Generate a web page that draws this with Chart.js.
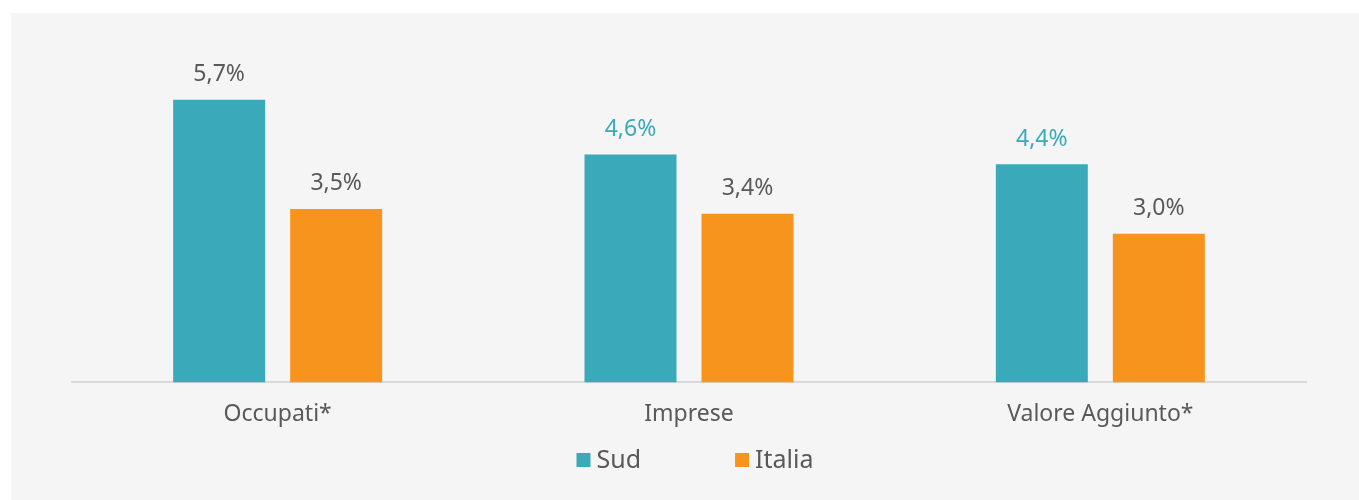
<!DOCTYPE html>
<html>
<head>
<meta charset="utf-8">
<script src="https://cdn.jsdelivr.net/npm/chart.js@4"></script>
<style>
  html, body { margin: 0; padding: 0; background: #ffffff; }
  #wrap { position: absolute; left: 11px; top: 13px; width: 1348px; height: 487px; background: #f5f5f5; }
</style>
</head>
<body>
<div id="wrap"><canvas id="myChart"></canvas></div>
<script>
// dati
const categorie = ['Occupati*', 'Imprese', 'Valore Aggiunto*'];
const sud = [5.7, 4.6, 4.4];
const italia = [3.5, 3.4, 3.0];
const etichetteSud = ['5,7%', '4,6%', '4,4%'];
const etichetteItalia = ['3,5%', '3,4%', '3,0%'];

const TEAL = '#3aa9ba';
const ORANGE = '#f7941e';
const GRIGIO = '#595959';
const FONT = "'Noto Sans', sans-serif";

// colori delle etichette sopra le barre
const coloriSud = [GRIGIO, TEAL, TEAL];
const coloriItalia = [GRIGIO, GRIGIO, GRIGIO];

const etichettePlugin = {
  id: 'etichette',
  afterDatasetsDraw(chart) {
    const ctx = chart.ctx;
    ctx.save();
    ctx.font = '23px ' + FONT;
    ctx.textAlign = 'center';
    ctx.textBaseline = 'middle';
    chart.data.datasets.forEach((ds, i) => {
      const meta = chart.getDatasetMeta(i);
      meta.data.forEach((bar, j) => {
        ctx.fillStyle = ds.labelColors[j];
        ctx.fillText(ds.labelTexts[j], bar.x, bar.y - 25);
      });
    });
    ctx.restore();
  }
};

// legenda disegnata a mano sotto l'asse
const legendaPlugin = {
  id: 'legenda',
  afterDraw(chart) {
    const ctx = chart.ctx;
    const box = 14, gap = 6, spazio = 94;
    ctx.save();
    ctx.font = '25px ' + FONT;
    ctx.textBaseline = 'middle';
    ctx.textAlign = 'left';
    const items = chart.data.datasets.map(ds => ({ text: ds.label, color: ds.backgroundColor, w: box + gap + ctx.measureText(ds.label).width }));
    let total = items.reduce((s, it) => s + it.w, 0) + spazio * (items.length - 1);
    const cx = (chart.chartArea.left + chart.chartArea.right) / 2 + 6;
    let x = cx - total / 2;
    const y = 447;
    items.forEach(it => {
      ctx.fillStyle = it.color;
      ctx.fillRect(x, y - box / 2, box, box);
      ctx.fillStyle = GRIGIO;
      ctx.fillText(it.text, x + box + gap, y + 1);
      x += it.w + spazio;
    });
    ctx.restore();
  }
};

const ctx = document.getElementById('myChart').getContext('2d');
const chart = new Chart(ctx, {
  type: 'bar',
  data: {
    labels: categorie,
    datasets: [
      { label: 'Sud', data: sud, backgroundColor: TEAL, labelTexts: etichetteSud, labelColors: coloriSud,
        categoryPercentage: 0.569, barPercentage: 0.786 },
      { label: 'Italia', data: italia, backgroundColor: ORANGE, labelTexts: etichetteItalia, labelColors: coloriItalia,
        categoryPercentage: 0.569, barPercentage: 0.786 }
    ]
  },
  options: {
    responsive: true,
    maintainAspectRatio: false,
    animation: false,
    layout: { padding: { left: 61, right: 53, top: 72, bottom: 62 } },
    plugins: { legend: { display: false }, tooltip: { enabled: false } },
    scales: {
      x: {
        grid: { display: false },
        border: { display: true, color: '#d9d9d9', width: 2 },
        ticks: { color: GRIGIO, font: { family: FONT, size: 23 }, padding: 10 }
      },
      y: { display: false, min: 0, max: 6 }
    }
  },
  plugins: [etichettePlugin, legendaPlugin]
});
</script>
</body>
</html>
